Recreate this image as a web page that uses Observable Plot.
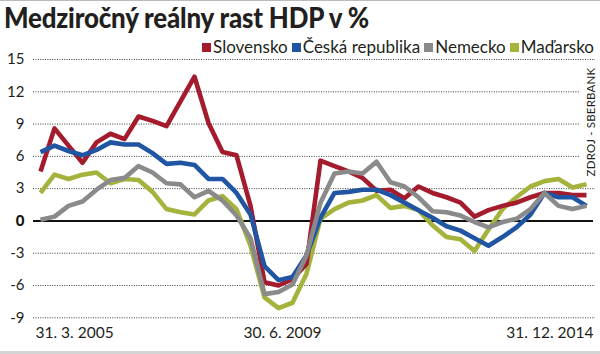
<!DOCTYPE html>
<html><head><meta charset="utf-8">
<script src="https://cdn.jsdelivr.net/npm/d3@7"></script>
<script src="https://cdn.jsdelivr.net/npm/@observablehq/plot@0.6"></script>
<style>
body{margin:0;background:#fff;}
#wrap{position:relative;width:600px;height:354px;overflow:hidden;font-family:Lato,"Open Sans",sans-serif;color:#231f20;background:#fff;}
#title{position:absolute;left:4px;top:0px;font-size:28px;font-weight:900;white-space:nowrap;transform-origin:left top;letter-spacing:-0.2px;}
#legend{position:absolute;right:6px;top:37px;font-size:17px;line-height:20px;display:flex;align-items:center;white-space:nowrap;}
#legend .it{display:flex;align-items:center;margin-left:4px;}
#legend .sw{width:9px;height:9px;margin-right:2px;margin-top:1px;}
#src{position:absolute;left:591px;top:122px;font-size:11.5px;line-height:12px;white-space:nowrap;transform:translate(-50%,-50%) rotate(-90deg);letter-spacing:0.2px;}
#topbar{position:absolute;left:0;top:0;width:600px;height:1px;background:#bbb;}
#botbar{position:absolute;left:0;top:351px;width:600px;height:3px;background:#d4d4d4;}
#chart{position:absolute;left:0;top:0;}
</style>
</head><body>
<div id="wrap">
  <div id="chart"></div>
  <div id="topbar"></div>
  <div id="botbar"></div>
  <div id="title">Medziročný reálny rast HDP v %</div>
  <div id="legend"></div>
  <div id="src">ZDROJ - SBERBANK</div>
</div>
<script>
// ---- data ----
const seriesNames = ["Slovensko", "Česká republika", "Nemecko", "Maďarsko"];
const seriesColors = ["#a31b2c", "#1f55a2", "#8a8a8a", "#a5b23c"];
const drawOrder = ["Maďarsko", "Slovensko", "Česká republika", "Nemecko"];

const quarters = [];
for (let y = 2005; y <= 2014; y++) for (let q = 1; q <= 4; q++) quarters.push(y + "Q" + q);

const slovensko = [4.6, 8.6, 7.0, 5.4, 7.3, 8.1, 7.6, 9.7, 9.3, 8.8, 11.1, 13.4, 9.1, 6.4, 6.1, 1.4,
  -5.7, -6.0, -5.4, -4.0, 5.6, 5.1, 4.6, 4.0, 2.8, 2.9, 2.1, 3.2, 2.6, 2.2, 1.7, 0.4,
  1.0, 1.4, 1.7, 2.2, 2.6, 2.6, 2.4, 2.4];
const ceskaRepublika = [6.4, 7.0, 6.5, 6.1, 6.6, 7.3, 7.1, 7.1, 6.3, 5.3, 5.4, 5.2, 3.9, 3.9, 2.6, 0.6,
  -4.2, -5.5, -5.2, -3.2, 0.3, 2.6, 2.7, 2.9, 2.9, 2.4, 1.7, 1.0, 0.3, -0.5, -0.9, -1.6,
  -2.3, -1.5, -0.6, 0.6, 2.6, 2.2, 2.2, 1.4];
const nemecko = [0.1, 0.4, 1.4, 1.8, 2.9, 3.8, 4.0, 5.1, 4.5, 3.5, 3.4, 2.2, 2.8, 1.9, 0.5, -1.6,
  -6.8, -6.6, -5.9, -3.2, 1.7, 4.4, 4.6, 4.4, 5.5, 3.6, 3.2, 2.2, 0.9, 0.8, 0.5, -0.1,
  -0.6, -0.1, 0.2, 1.1, 2.6, 1.4, 1.1, 1.4];
const madarsko = [2.6, 4.3, 3.9, 4.3, 4.5, 3.5, 3.9, 3.8, 2.7, 1.1, 0.8, 0.6, 1.9, 2.3, 1.1, -2.3,
  -7.1, -8.1, -7.6, -4.9, 0.2, 1.1, 1.7, 1.9, 2.4, 1.2, 1.4, 1.0, -0.4, -1.5, -1.7, -2.8,
  -0.8, 1.1, 2.2, 3.2, 3.7, 3.9, 3.1, 3.4];

const yTicks = [15, 12, 9, 6, 3, 0, -3, -6, -9];
const xTickQuarters = ["2005Q1", "2009Q2", "2014Q4"];
const xTickLabels = ["31. 3. 2005", "30. 6. 2009", "31. 12. 2014"];

// ---- build table ----
const valuesByName = {
  "Slovensko": slovensko, "Česká republika": ceskaRepublika,
  "Nemecko": nemecko, "Maďarsko": madarsko
};
const rows = [];
for (const name of drawOrder) {
  valuesByName[name].forEach((v, i) => rows.push({q: quarters[i], v, s: name}));
}
const xTicks = xTickQuarters.map((q, i) => ({q, label: xTickLabels[i]}));

const font = "Lato, 'Open Sans', sans-serif";
const chart = Plot.plot({
  width: 600, height: 354,
  marginTop: 59, marginBottom: 36.7, marginLeft: 38, marginRight: 12,
  style: {fontFamily: font, background: "transparent", overflow: "visible"},
  x: {type: "point", domain: quarters, padding: 0, axis: null},
  y: {domain: [-9, 15], axis: null},
  color: {domain: seriesNames, range: seriesColors},
  marks: [
    Plot.ruleY(yTicks.filter(d => d === 12 || d === 9 || d === 6), {stroke: "#3a3a3a", strokeWidth: 1, strokeDasharray: "1,1.4", insetLeft: -5, insetRight: 8}),
    Plot.ruleY(yTicks.filter(d => d !== 0 && d !== 12 && d !== 9 && d !== 6), {stroke: "#3a3a3a", strokeWidth: 1, strokeDasharray: "1,1.4", insetLeft: -5, insetRight: -7}),
    Plot.ruleY([0], {stroke: "#111", strokeWidth: 2, insetLeft: -5, insetRight: -5}),
    Plot.line(rows, {x: "q", y: "v", z: "s", stroke: "s", strokeWidth: 4.6, strokeLinejoin: "round", strokeLinecap: "butt"}),
    Plot.text(yTicks.filter(d => d !== 0), {y: d => d, text: d => String(d), frameAnchor: "left", dx: -14, textAnchor: "end", fontSize: 15, fill: "#231f20"}),
    Plot.text([0], {y: d => d, text: d => String(d), frameAnchor: "left", dx: -14, textAnchor: "end", fontSize: 15, fontWeight: 900, fill: "#111"}),
    Plot.text(xTicks.slice(0, 1), {x: "q", text: "label", frameAnchor: "bottom", dy: 20, dx: -5, textAnchor: "start", fontSize: 15.5, fill: "#231f20"}),
    Plot.text(xTicks.slice(1, 2), {x: "q", text: "label", frameAnchor: "bottom", dy: 20, dx: 4, textAnchor: "middle", fontSize: 15.5, fill: "#231f20"}),
    Plot.text(xTicks.slice(2, 3), {x: "q", text: "label", frameAnchor: "bottom", dy: 20, dx: 7, textAnchor: "end", fontSize: 15.5, fill: "#231f20"})
  ]
});
document.getElementById("chart").appendChild(chart);

// legend
const legend = document.getElementById("legend");
seriesNames.forEach((n, i) => {
  const it = document.createElement("div"); it.className = "it";
  const sw = document.createElement("div"); sw.className = "sw"; sw.style.background = seriesColors[i];
  const t = document.createElement("span"); t.textContent = n;
  it.appendChild(sw); it.appendChild(t); legend.appendChild(it);
});

// fit title width
const title = document.getElementById("title");
const w = title.getBoundingClientRect().width;
title.style.transform = `scaleX(${365 / w})`;
</script>
</body></html>
